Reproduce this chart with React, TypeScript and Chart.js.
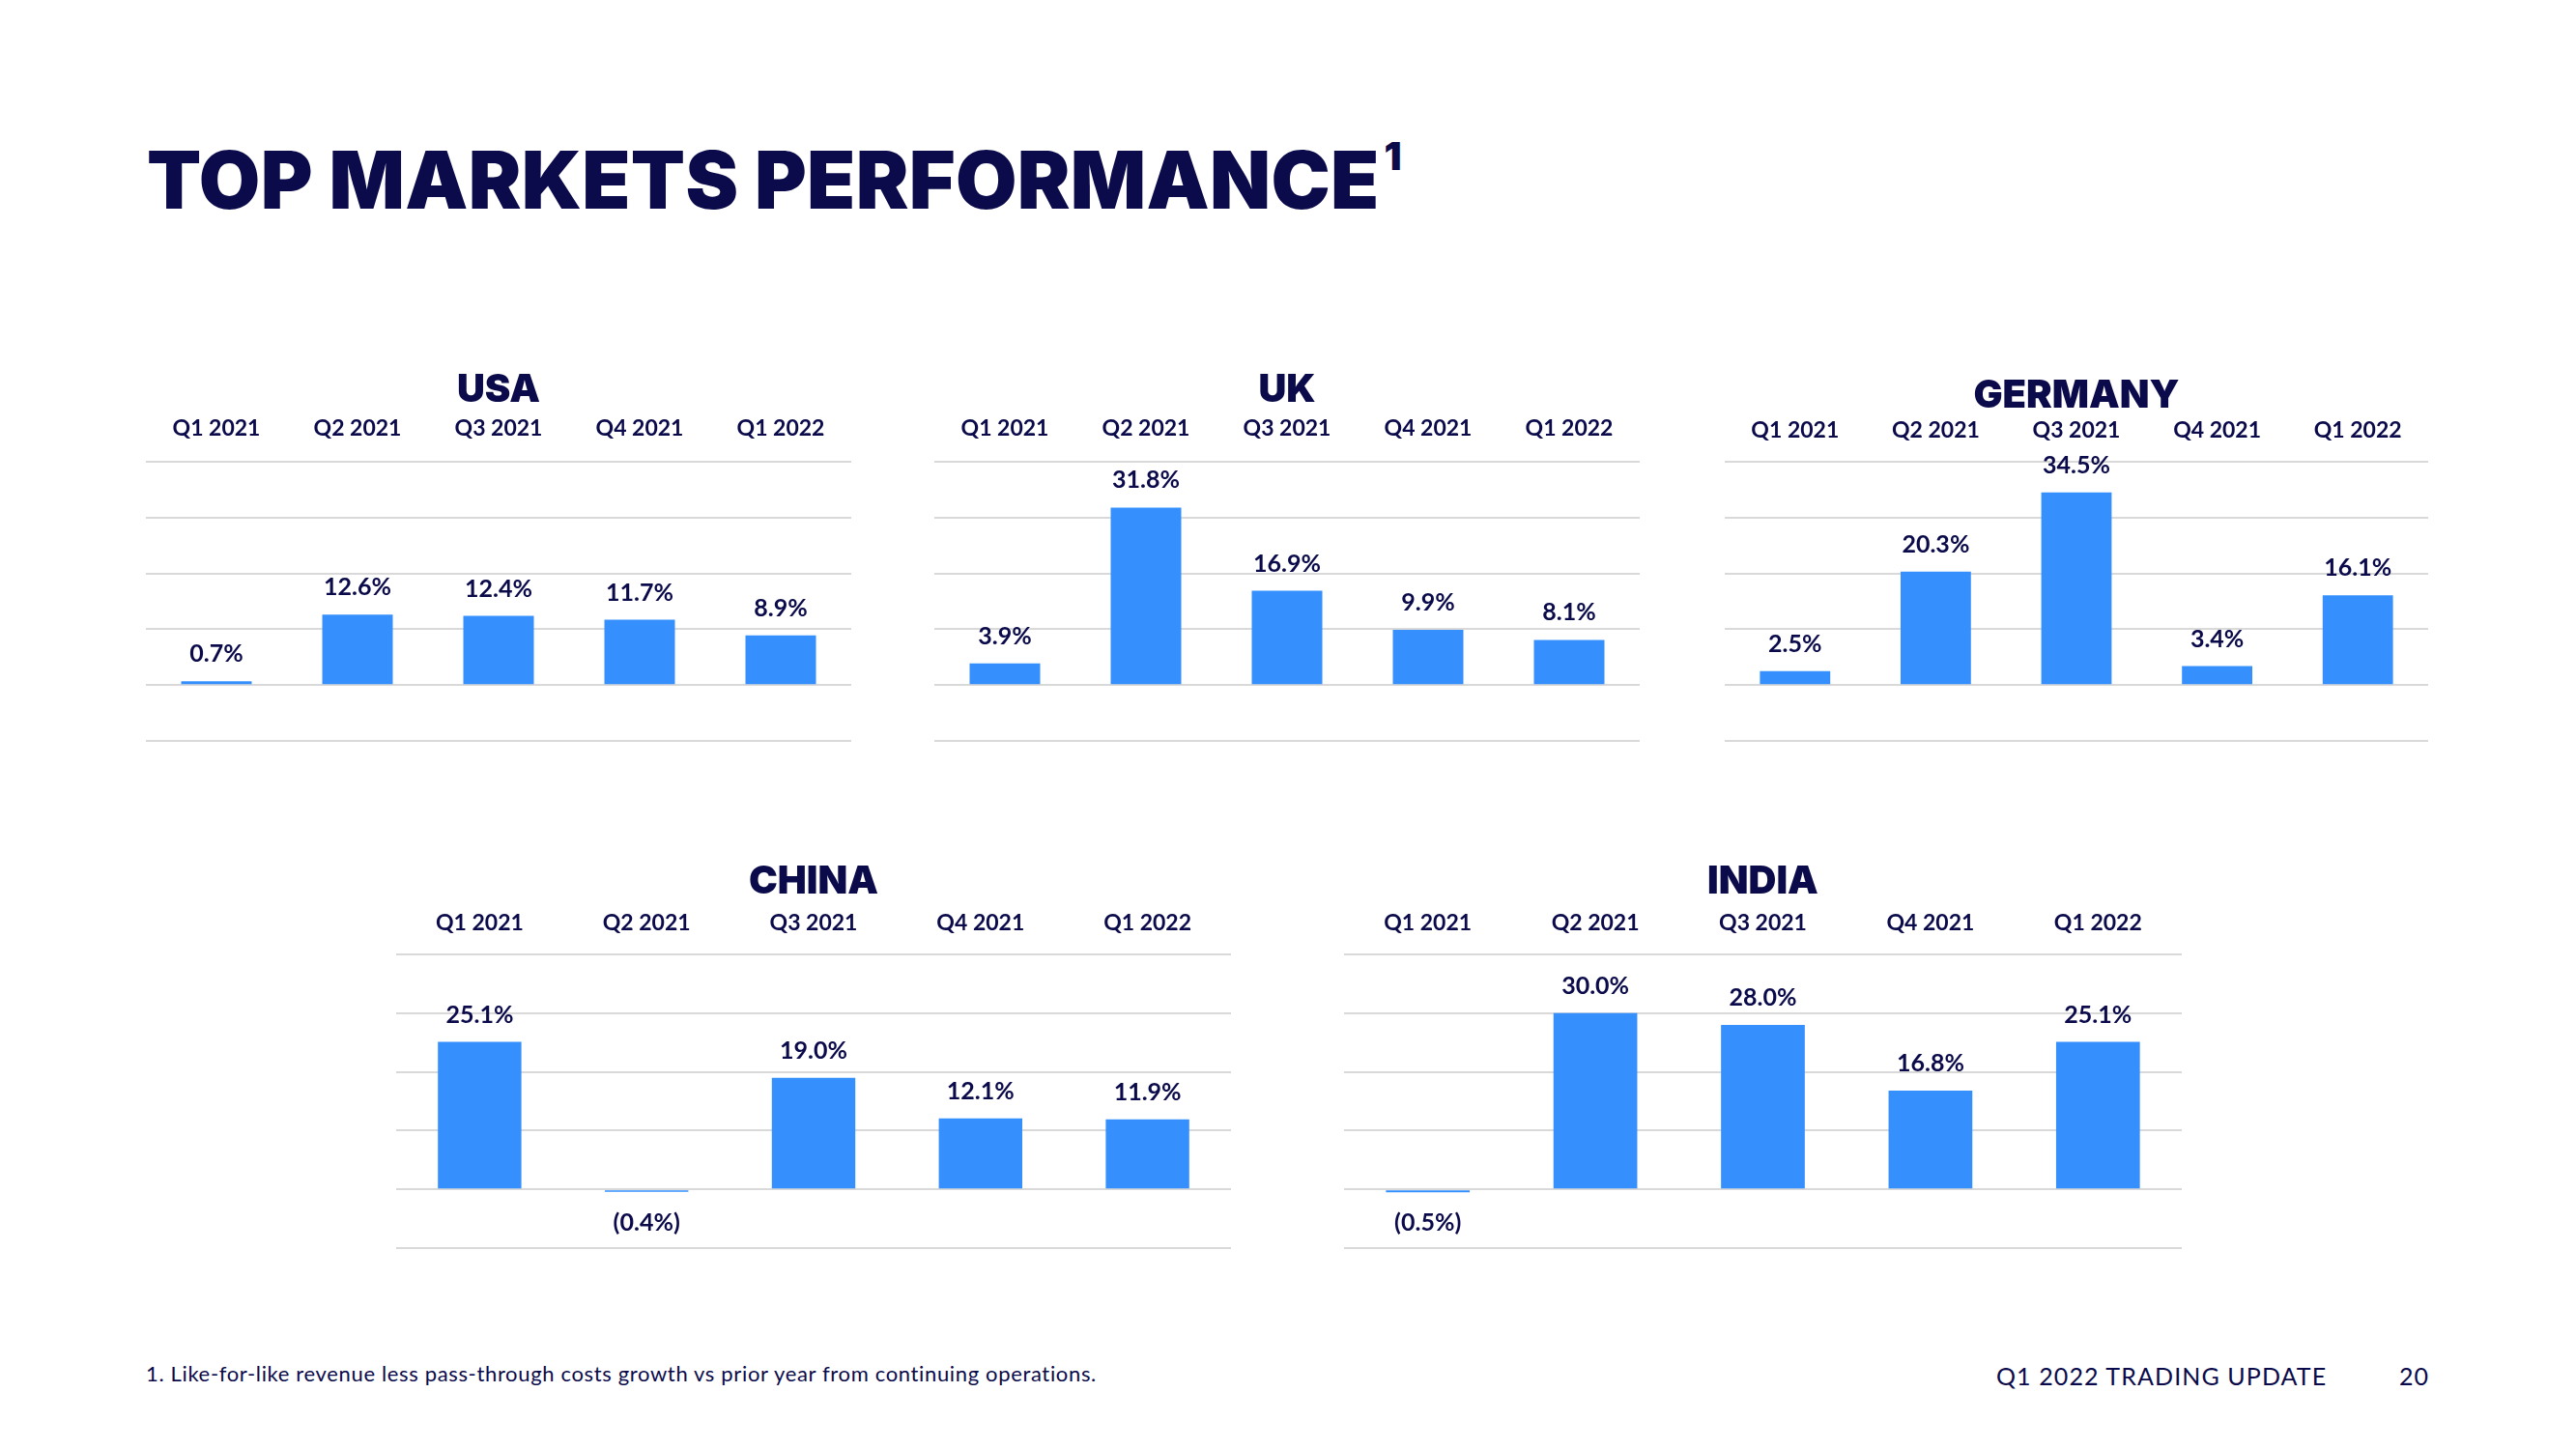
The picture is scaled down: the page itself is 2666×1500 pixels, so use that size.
import React, { useEffect, useRef } from "react";
import { Chart, registerables } from "chart.js";

Chart.register(...registerables);

const quarters = ["Q1 2021", "Q2 2021", "Q3 2021", "Q4 2021", "Q1 2022"];
const usaValues = [0.7, 12.6, 12.4, 11.7, 8.9];
const ukValues = [3.9, 31.8, 16.9, 9.9, 8.1];
const germanyValues = [2.5, 20.3, 34.5, 3.4, 16.1];
const chinaValues = [25.1, -0.4, 19.0, 12.1, 11.9];
const indiaValues = [-0.5, 30.0, 28.0, 16.8, 25.1];
const yMin = -10;
const yMax = 40;
const yStep = 10;

const NAVY = "#0b0b4b";
const BLUE = "#3590fe";
const GRID = "#d9d9d9";
const TITLE_SIZE = 40;
const TITLE_PAD = 10;

function fmt(v: number) {
  return v < 0 ? `(${Math.abs(v).toFixed(1)}%)` : `${v.toFixed(1)}%`;
}

type PanelProps = {
  title: string;
  values: number[];
  left: number;
  width: number;
  titleY: number;
  gridTop: number;
  gridBottom: number;
  labelY: number;
};

function BarPanel({ title, values, left, width, titleY, gridTop, gridBottom, labelY }: PanelProps) {
  const ref = useRef<HTMLCanvasElement>(null);
  const canvasTop = titleY - TITLE_PAD - TITLE_SIZE / 2;
  const height = gridBottom - canvasTop + 3;

  useEffect(() => {
    const titleBlock = TITLE_SIZE + TITLE_PAD;
    const axisH = gridTop - canvasTop - titleBlock;
    const tickPad = gridTop - labelY - 11.5;
    const valueLabels = {
      id: "valueLabels",
      afterDatasetsDraw(chart: any) {
        const ctx = chart.ctx;
        const meta = chart.getDatasetMeta(0);
        ctx.save();
        ctx.font = "700 25px Lato";
        ctx.fillStyle = NAVY;
        ctx.textAlign = "center";
        ctx.textBaseline = "middle";
        meta.data.forEach((bar: any, i: number) => {
          const v = values[i];
          const p = bar.getProps(["x", "y", "base"], true);
          const y = v < 0 ? p.y + 32 : p.y - 28;
          ctx.fillText(fmt(v), p.x, y);
        });
        ctx.restore();
      },
    };
    const chart = new Chart(ref.current as HTMLCanvasElement, {
      type: "bar",
      data: {
        labels: quarters,
        datasets: [
          {
            data: values,
            backgroundColor: BLUE,
            borderWidth: 0,
            barPercentage: 0.5,
            categoryPercentage: 1,
          },
        ],
      },
      options: {
        animation: false,
        responsive: false,
        maintainAspectRatio: false,
        devicePixelRatio: 1,
        layout: { padding: { top: 0, bottom: 3, left: 0, right: 0 } },
        plugins: {
          legend: { display: false },
          tooltip: { enabled: false },
          title: {
            display: true,
            text: title,
            color: NAVY,
            font: { family: "Inter", weight: 900 as any, size: TITLE_SIZE, lineHeight: 1 },
            padding: { top: TITLE_PAD, bottom: 0 },
          },
        },
        scales: {
          x: {
            position: "top",
            grid: { display: false, drawTicks: false },
            border: { display: false },
            ticks: {
              color: NAVY,
              font: { family: "Lato", weight: 700 as any, size: 23, lineHeight: 1 },
              padding: tickPad,
              maxRotation: 0,
              autoSkip: false,
            },
            afterFit: (s: any) => {
              s.height = axisH;
            },
          },
          y: {
            min: yMin,
            max: yMax,
            ticks: { display: false, stepSize: yStep },
            grid: { color: GRID, lineWidth: 2, drawTicks: false },
            border: { display: false },
            afterFit: (s: any) => {
              s.width = 0;
            },
          },
        },
      } as any,
      plugins: [valueLabels],
    });
    return () => chart.destroy();
  }, []);

  return (
    <canvas
      ref={ref}
      width={width}
      height={height}
      style={{ position: "absolute", left, top: canvasTop, width, height }}
    />
  );
}

export default function App() {
  return (
    <div
      style={{
        position: "absolute",
        left: 0,
        top: 0,
        width: 2666,
        height: 1500,
        background: "#ffffff",
        overflow: "hidden",
        fontFamily: "Lato",
        color: NAVY,
      }}
    >
      <div
        style={{
          position: "absolute",
          left: 152,
          top: 146,
          fontFamily: "Inter",
          fontWeight: 900,
          fontSize: 82,
          lineHeight: "82px",
          whiteSpace: "nowrap",
          letterSpacing: 0.3,
        }}
      >
        TOP MARKETS PERFORMANCE
        <span style={{ fontSize: 40, position: "relative", top: -40, marginLeft: 5 }}>1</span>
      </div>

      <BarPanel title="USA" values={usaValues} left={151} width={730} titleY={404} gridTop={478} gridBottom={767} labelY={443.5} />
      <BarPanel title="UK" values={ukValues} left={967} width={730} titleY={404} gridTop={478} gridBottom={767} labelY={443.5} />
      <BarPanel title="GERMANY" values={germanyValues} left={1785} width={728} titleY={410} gridTop={478} gridBottom={767} labelY={445.5} />
      <BarPanel title="CHINA" values={chinaValues} left={410} width={864} titleY={913} gridTop={988} gridBottom={1292} labelY={955.5} />
      <BarPanel title="INDIA" values={indiaValues} left={1391} width={867} titleY={913} gridTop={988} gridBottom={1292} labelY={955.5} />

      <div
        style={{
          position: "absolute",
          left: 151,
          top: 1411,
          fontSize: 22,
          lineHeight: "22px",
          letterSpacing: 0.65,
          whiteSpace: "nowrap",
        }}
      >
        1. Like-for-like revenue less pass-through costs growth vs prior year from continuing operations.
      </div>
      <div
        style={{
          position: "absolute",
          left: 2066,
          top: 1412,
          fontSize: 25,
          lineHeight: "25px",
          letterSpacing: 1.1,
          whiteSpace: "nowrap",
        }}
      >
        Q1 2022 TRADING UPDATE
      </div>
      <div
        style={{
          position: "absolute",
          left: 2483,
          top: 1412,
          fontSize: 25,
          lineHeight: "25px",
          letterSpacing: 1.1,
          whiteSpace: "nowrap",
        }}
      >
        20
      </div>
    </div>
  );
}
